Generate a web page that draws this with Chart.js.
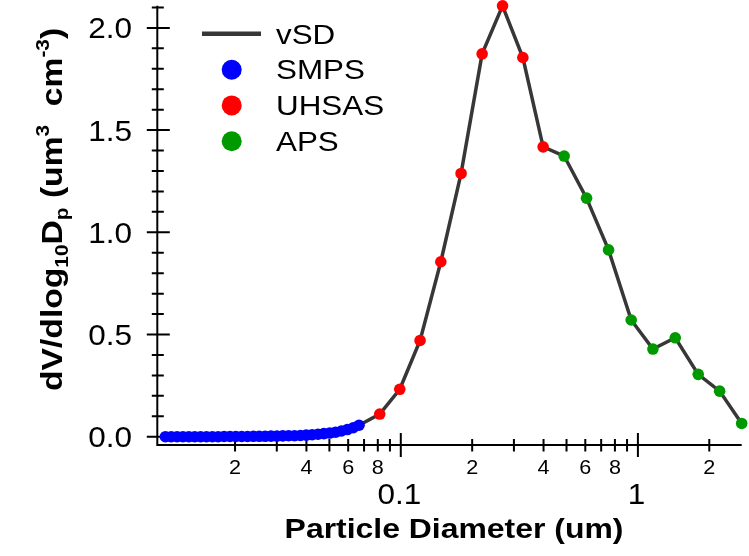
<!DOCTYPE html>
<html>
<head>
<meta charset="utf-8">
<script src="https://cdn.jsdelivr.net/npm/chart.js@4.4.0/dist/chart.umd.min.js"></script>
<style>
html, body { margin: 0; padding: 0; background: #fff; }
#wrap { width: 749px; height: 556px; }
</style>
</head>
<body>
<div id="wrap"><canvas id="sizeDist" width="749" height="556"></canvas></div>
<script>
// SMPS
const smpsDp = [0.01017, 0.01076, 0.01139, 0.01206, 0.01277, 0.01352, 0.01431, 0.01515, 0.01604, 0.01698,
	0.01798, 0.01904, 0.02015, 0.02133, 0.02258, 0.02390, 0.02531, 0.02679, 0.02836, 0.03003,
	0.03179, 0.03365, 0.03563, 0.03772, 0.03993, 0.04227, 0.04475, 0.04738, 0.05016, 0.05309,
	0.05621, 0.05951, 0.06300, 0.06668];
const smpsDv = [0.000, 0.000, 0.000, 0.000, 0.000, 0.000, 0.000, 0.000, 0.000, 0.000,
	0.001, 0.001, 0.001, 0.001, 0.001, 0.002, 0.002, 0.002, 0.003, 0.003,
	0.004, 0.005, 0.005, 0.006, 0.008, 0.010, 0.012, 0.015, 0.018, 0.022,
	0.028, 0.035, 0.044, 0.056];

// UHSAS
const uhsasDp = [0.0815, 0.0990, 0.1206, 0.1475, 0.1796, 0.2203, 0.2686, 0.3272, 0.3984];
const uhsasDv = [0.111, 0.232, 0.471, 0.856, 1.288, 1.873, 2.108, 1.855, 1.418];

// APS
const apsDp = [0.4887, 0.6073, 0.752, 0.937, 1.157, 1.437, 1.796, 2.212, 2.74];
const apsDv = [1.373, 1.167, 0.914, 0.571, 0.429, 0.484, 0.305, 0.223, 0.065];

// axis ticks
const xMajorTicks  = [0.1, 1];
const xMajorLabels = ['0.1', '1'];
const xMinorTicks  = [0.02, 0.03, 0.04, 0.05, 0.06, 0.07, 0.08, 0.09,
	0.2, 0.3, 0.4, 0.5, 0.6, 0.7, 0.8, 0.9, 2];
const xMinorLabelAt   = [0.02, 0.04, 0.06, 0.08, 0.2, 0.4, 0.6, 0.8, 2];
const xMinorLabelText = ['2', '4', '6', '8', '2', '4', '6', '8', '2'];
const yMajorTicks  = [0, 0.5, 1, 1.5, 2];
const yMajorLabels = ['0.0', '0.5', '1.0', '1.5', '2.0'];
const yMinorTicks  = [0.1, 0.2, 0.3, 0.4, 0.6, 0.7, 0.8, 0.9, 1.1, 1.2, 1.3, 1.4,
	1.6, 1.7, 1.8, 1.9, 2.1];

const FONT = "'Liberation Sans', Arial, Helvetica, sans-serif";

function toXY(xs, ys) {
	return xs.map( (x, i) => ({ x: x, y: ys[i] }) );
}

// text drawn a little wider than the font, like the original
function wideText(ctx, str, x, y, font, sx, align) {
	ctx.save();
	ctx.font = font;
	let w  = ctx.measureText( str ).width * sx;
	let x0 = align === 'center' ? x - w / 2 : (align === 'right' ? x - w : x);
	ctx.translate( x0, y );
	ctx.scale( sx, 1 );
	ctx.textAlign = 'left';
	ctx.textBaseline = 'alphabetic';
	ctx.fillStyle = '#000';
	ctx.fillText( str, 0, 0 );
	ctx.restore();
}

const igorAxes = {
	id: 'igorAxes',
	beforeDatasetsDraw(chart) {
		const ctx = chart.ctx;
		const xs = chart.scales.x, ys = chart.scales.y;
		const a = chart.chartArea;
		ctx.save();
		ctx.strokeStyle = '#000';
		ctx.lineWidth = 2;
		ctx.lineCap = 'butt';
		ctx.beginPath();
		ctx.moveTo( a.left, a.top );
		ctx.lineTo( a.left, a.bottom );
		ctx.lineTo( a.right, a.bottom );
		// y ticks
		yMajorTicks.forEach( v => { let p = ys.getPixelForValue( v ); ctx.moveTo( a.left - 10.5, p ); ctx.lineTo( a.left + 12.5, p ); } );
		yMinorTicks.forEach( v => { let p = ys.getPixelForValue( v ); ctx.moveTo( a.left - 5.5, p ); ctx.lineTo( a.left + 6.5, p ); } );
		// x ticks
		xMajorTicks.forEach( v => { let p = xs.getPixelForValue( v ); ctx.moveTo( p, a.bottom - 12 ); ctx.lineTo( p, a.bottom + 12 ); } );
		xMinorTicks.forEach( v => { let p = xs.getPixelForValue( v ); ctx.moveTo( p, a.bottom - 6 ); ctx.lineTo( p, a.bottom + 6.5 ); } );
		ctx.stroke();
		ctx.restore();

		// tick labels
		yMajorTicks.forEach( (v, i) => wideText( ctx, yMajorLabels[i], 132, ys.getPixelForValue( v ) + 10.5, '30px ' + FONT, 1.05, 'right' ) );
		xMajorTicks.forEach( (v, i) => wideText( ctx, xMajorLabels[i], xs.getPixelForValue( v ) - 1.5, 504, '30px ' + FONT, 1.05, 'center' ) );
		xMinorLabelAt.forEach( (v, i) => wideText( ctx, xMinorLabelText[i], xs.getPixelForValue( v ), 473.5, '20px ' + FONT, 1.08, 'center' ) );

		// x title
		wideText( ctx, 'Particle Diameter (um)', 454, 538, 'bold 28px ' + FONT, 1.14, 'center' );

		// y title, rotated, with sub/superscripts
		const F = 29, sx = 1.16;
		const parts = [
			{ t: 'dV/dlog', s: 1, dy: 0 },
			{ t: '10', s: 0.62, dy: 0.22 },
			{ t: 'D', s: 1, dy: 0 },
			{ t: 'p', s: 0.62, dy: 0.22 },
			{ t: ' (um', s: 1, dy: 0 },
			{ t: '3', s: 0.62, dy: -0.45, gap: 8 },
			{ t: ' cm', s: 1, dy: 0 },
			{ t: '-3', s: 0.62, dy: -0.45 },
			{ t: ')', s: 1, dy: 0 }
		];
		ctx.save();
		ctx.translate( 62, 391 );
		ctx.rotate( -Math.PI / 2 );
		ctx.scale( sx, 1 );
		ctx.fillStyle = '#000';
		ctx.textBaseline = 'alphabetic';
		let cx = 0;
		parts.forEach( p => {
			ctx.font = 'bold ' + (F * p.s) + 'px ' + FONT;
			ctx.fillText( p.t, cx, p.dy * F );
			cx += ctx.measureText( p.t ).width + (p.gap || 0);
		} );
		ctx.restore();
	},
	afterDraw(chart) {
		// legend inside the plot
		const ctx = chart.ctx;
		const rows = [43.5, 79, 114.7, 150.5];
		const sets = chart.data.datasets;
		ctx.save();
		sets.forEach( (ds, i) => {
			let midY = rows[i] - 9.8;
			if (ds.showLine) {
				ctx.strokeStyle = ds.borderColor;
				ctx.lineWidth = 4.5;
				ctx.beginPath();
				ctx.moveTo( 202, midY );
				ctx.lineTo( 261, midY );
				ctx.stroke();
			} else {
				ctx.fillStyle = ds.backgroundColor;
				ctx.beginPath();
				ctx.arc( 231.7, midY + 0.5, 10, 0, Math.PI * 2 );
				ctx.fill();
			}
			wideText( ctx, ds.label, 276, rows[i], '28px ' + FONT, 1.12, 'left' );
		} );
		ctx.restore();
	}
};

const allPoints = toXY( smpsDp, smpsDv ).concat( toXY( uhsasDp, uhsasDv ), toXY( apsDp, apsDv ) );

new Chart(
	document.getElementById( 'sizeDist' ),
	{
		type: 'scatter',
		data: {
			datasets: [{
				label: 'vSD',
				data: allPoints,
				showLine: true,
				borderColor: '#373737',
				borderWidth: 3.5,
				pointRadius: 0,
				clip: false,
				order: 4
			}, {
				label: 'SMPS',
				data: toXY( smpsDp, smpsDv ),
				backgroundColor: '#0000ff',
				borderColor: '#0000ff',
				pointRadius: 5.8,
				pointBorderWidth: 0,
				clip: false,
				order: 3
			}, {
				label: 'UHSAS',
				data: toXY( uhsasDp, uhsasDv ),
				backgroundColor: '#ff0000',
				borderColor: '#ff0000',
				pointRadius: 5.8,
				pointBorderWidth: 0,
				clip: false,
				order: 2
			}, {
				label: 'APS',
				data: toXY( apsDp, apsDv ),
				backgroundColor: '#009a00',
				borderColor: '#009a00',
				pointRadius: 5.8,
				pointBorderWidth: 0,
				clip: false,
				order: 1
			}]
		},
		options: {
			responsive: false,
			maintainAspectRatio: false,
			animation: false,
			events: [],
			layout: { padding: { left: 157.3, right: 7.3, top: 5.6, bottom: 111 } },
			plugins: { legend: { display: false }, tooltip: { enabled: false } },
			scales: {
				x: { type: 'logarithmic', min: 0.0094, max: 2.74, display: false },
				y: { type: 'linear', min: -0.0405, max: 2.108, display: false }
			}
		},
		plugins: [igorAxes]
	}
);
</script>
</body>
</html>
